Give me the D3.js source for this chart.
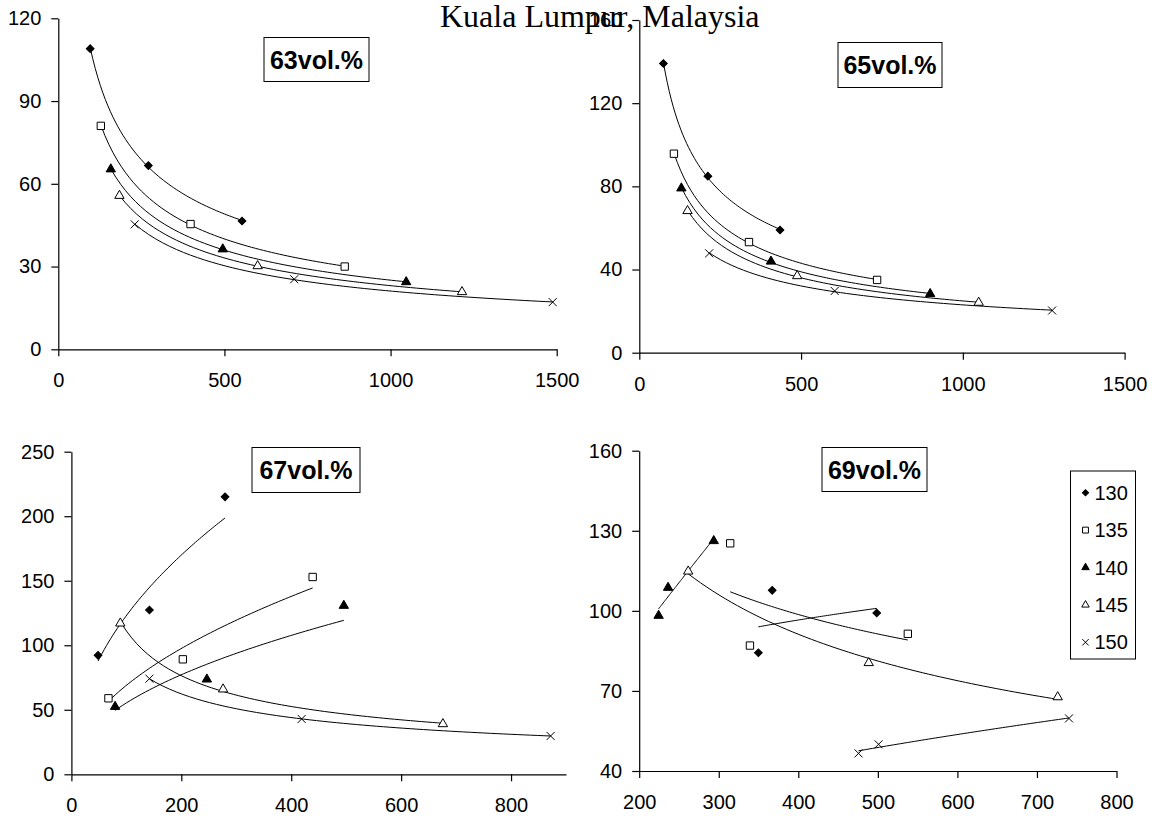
<!DOCTYPE html>
<html>
<head>
<meta charset="utf-8">
<script src="https://cdn.jsdelivr.net/npm/d3@7"></script>
<style>
  body { margin: 0; background: #fff; }
  svg text { font-family: "Liberation Sans", Arial, sans-serif; }
</style>
</head>
<body>
<svg id="chart" width="1153" height="816"></svg>
<script>
var seriesNames = ["130", "135", "140", "145", "150"];
var panelLabels = ["63vol.%", "65vol.%", "67vol.%", "69vol.%"];

// 63vol.%
var p63x = [[96, 271, 553], [128, 398, 862], [158, 495, 1047], [184, 600, 1215], [230, 710, 1488]];
var p63y = [[109, 66.6, 46.5], [81, 45.4, 30], [65.3, 36.3, 24.4], [55.7, 30.2, 20.8], [45.3, 25.4, 17.1]];
// 65vol.%
var p65x = [[74.5, 212, 435], [107, 339, 735], [130, 407, 899], [149, 488, 1049], [216, 604, 1276]];
var p65y = [[139.1, 84.9, 59], [95.7, 53.2, 35], [79.1, 43.9, 28.3], [68.2, 36.9, 24.1], [47.8, 29.7, 20.3]];
// 67vol.%
var p67x = [[48.5, 142, 279.6], [67.4, 202.8, 439], [79.5, 246.5, 495.7], [89, 276, 676], [142, 419, 872]];
var p67y = [[92.2, 127.3, 215], [58.9, 89.1, 152.9], [52.4, 73.6, 130.7], [117, 65.9, 39], [74.1, 42.9, 29.7]];
// 69vol.%
var p69x = [[349.8, 367.2, 498.6], [314.4, 339.2, 537.7], [224.4, 236.3, 293.7], [261.6, 488.5, 726.1], [475.7, 500.9, 740.3]];
var p69y = [[84.3, 107.7, 99.2], [125.3, 87, 91.4], [98.2, 108.7, 126.2], [114.8, 80.5, 67.7], [46.6, 50, 59.7]];

var xTicks = [[0, 500, 1000, 1500], [0, 500, 1000, 1500], [0, 200, 400, 600, 800], [200, 300, 400, 500, 600, 700, 800]];
var yTicks = [[0, 30, 60, 90, 120], [0, 40, 80, 120, 160], [0, 50, 100, 150, 200, 250], [40, 70, 100, 130, 160]];
var xDomains = [[0, 1500], [0, 1500], [0, 900], [200, 800]];
var yDomains = [[0, 120], [0, 160], [0, 250], [40, 160]];

// pixel frames of the four plots: left, right, top, bottom, label box
var frames = [
    {l: 58.3, r: 556.7, t: 18.3, b: 349.3, box: [264, 37.5, 105, 44]},
    {l: 639.3, r: 1124.6, t: 20, b: 352.7, box: [838, 42.5, 104, 45]},
    {l: 71.4, r: 566, t: 451.7, b: 774.3, box: [252, 447.5, 108, 45]},
    {l: 639.2, r: 1116.5, t: 450.7, b: 771, box: [822, 447.5, 105, 44]}
];

var svg = d3.select("#chart");

function markerPath(i, s) {
    var k = s || 1;
    if (i == 0) return d3.symbol().type(d3.symbolSquare).size(30 * k * k)();
    if (i == 1) return d3.symbol().type(d3.symbolSquare).size(54 * k * k)();
    if (i == 2 || i == 3) return d3.symbol().type(d3.symbolTriangle).size(38 * k * k)();
    var h = 4 * k;
    return "M" + (-h) + "," + (-h) + "L" + h + "," + h + "M" + (-h) + "," + h + "L" + h + "," + (-h);
}

function drawMarker(g, i, x, y, s) {
    var p = g.append("path")
        .attr("d", markerPath(i, s))
        .attr("transform", "translate(" + x + "," + y + ")" + (i == 0 ? " rotate(45)" : ""))
        .attr("stroke", "#000")
        .attr("stroke-width", 1);
    if (i == 0 || i == 2) p.attr("fill", "#000");
    else if (i == 4) p.attr("fill", "none");
    else p.attr("fill", "#fff");
}

// power trendline y = a * x^b (least squares in log-log)
function powerFit(xs, ys) {
    var lx = xs.map(Math.log), ly = ys.map(Math.log);
    var mx = d3.mean(lx), my = d3.mean(ly);
    var sxy = d3.sum(lx, function(d, i){ return (d - mx) * (ly[i] - my); });
    var sxx = d3.sum(lx, function(d){ return (d - mx) * (d - mx); });
    var b = sxy / sxx;
    var a = Math.exp(my - b * mx);
    return function(x){ return a * Math.pow(x, b); };
}

function drawPanel(n, xs, ys) {
    var f = frames[n];
    var x = d3.scaleLinear().domain(xDomains[n]).range([f.l, f.r]);
    var y = d3.scaleLinear().domain(yDomains[n]).range([f.b, f.t]);
    var g = svg.append("g").attr("class", "panel");

    var ya = g.append("g")
        .attr("transform", "translate(" + f.l + ",0)")
        .call(d3.axisLeft(y).tickValues(yTicks[n]).tickFormat(d3.format("d"))
            .tickSize(7).tickSizeOuter(0).tickPadding(10));
    var xa = g.append("g")
        .attr("transform", "translate(0," + f.b + ")")
        .call(d3.axisBottom(x).tickValues(xTicks[n]).tickFormat(d3.format("d"))
            .tickSize(7).tickSizeOuter(0).tickPadding(17));
    [ya, xa].forEach(function(a){
        a.attr("font-size", null).attr("font-family", null);
        a.selectAll("text").style("font-size", "20px").attr("fill", "#000")
            .style("font-family", "'Liberation Sans', Arial, sans-serif");
        a.select(".domain").attr("stroke", "#000").attr("stroke-width", 1.2);
        a.selectAll(".tick line").attr("stroke", "#000").attr("stroke-width", 1.2);
    });

    var line = d3.line().x(function(d){ return x(d[0]); }).y(function(d){ return y(d[1]); });
    xs.forEach(function(sx, i){
        var fit = powerFit(sx, ys[i]);
        var lo = d3.min(sx), hi = d3.max(sx);
        var pts = d3.range(0, 61).map(function(k){
            var v = lo + (hi - lo) * k / 60;
            return [v, fit(v)];
        });
        g.append("path").attr("d", line(pts))
            .attr("fill", "none").attr("stroke", "#000").attr("stroke-width", 1);
    });
    xs.forEach(function(sx, i){
        sx.forEach(function(v, j){
            drawMarker(g, i, x(v), y(ys[i][j]));
        });
    });

    var b = f.box;
    g.append("rect").attr("x", b[0]).attr("y", b[1]).attr("width", b[2]).attr("height", b[3])
        .attr("fill", "#fff").attr("stroke", "#000").attr("stroke-width", 1);
    g.append("text").attr("x", b[0] + b[2] / 2).attr("y", b[1] + b[3] / 2 + 9)
        .attr("text-anchor", "middle").attr("font-size", 25).attr("font-weight", "bold")
        .text(panelLabels[n]);
}

drawPanel(0, p63x, p63y);
drawPanel(1, p65x, p65y);
drawPanel(2, p67x, p67y);
drawPanel(3, p69x, p69y);

// legend
var lg = svg.append("g").attr("class", "legend");
lg.append("rect").attr("x", 1070.5).attr("y", 471).attr("width", 65).attr("height", 188)
    .attr("fill", "#fff").attr("stroke", "#000").attr("stroke-width", 1);
seriesNames.forEach(function(s, i){
    var cy = 492.7 + i * 37.4;
    drawMarker(lg, i, 1085.5, cy, 0.8);
    lg.append("text").attr("x", 1094.5).attr("y", cy + 7).attr("font-size", 20).text(s);
});

// page header running over the chart
svg.append("text").attr("x", 440).attr("y", 27)
    .style("font-family", "'Liberation Serif', 'Times New Roman', serif")
    .attr("font-size", 32).text("Kuala Lumpur, Malaysia");
</script>
</body>
</html>
